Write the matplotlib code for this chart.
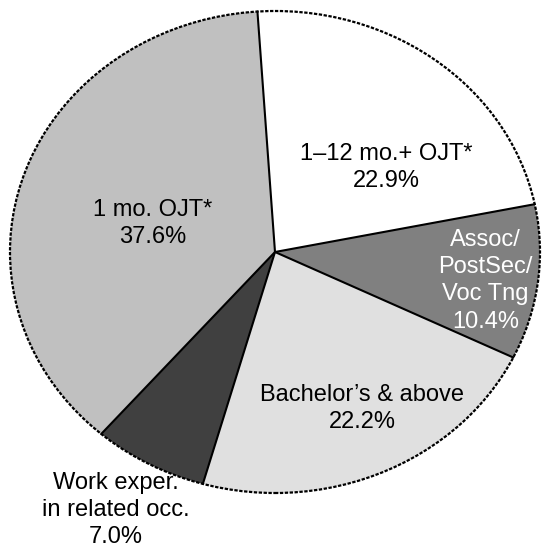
import matplotlib.pyplot as plt
import numpy as np
from matplotlib.patches import Circle

plt.rcParams['font.family'] = ['Liberation Sans', 'DejaVu Sans']

labels = ['1\u201312 mo.+ OJT*', 'Assoc/\nPostSec/\nVoc Tng', 'Bachelor\u2019s & above',
          'Work exper.\nin related occ.', '1 mo. OJT*']
shares = [22.9, 10.4, 22.2, 7.0, 37.6]
colors = ['#ffffff', '#808080', '#e0e0e0', '#404040', '#c0c0c0']
text_colors = ['black', 'white', 'black', 'black', 'black']
# label centres in axes data units
label_pos = [(0.42, 0.35), (0.795, -0.12), (0.33, -0.65), (-0.60, -1.07), (-0.46, 0.12)]

start = 93.8

fig = plt.figure(figsize=(5.44, 5.52), dpi=100)
ax = fig.add_axes([10/544, 59/552, 530/544, 482/552])
ax.pie(shares, colors=colors, startangle=start, counterclock=False,
       wedgeprops=dict(linewidth=0), normalize=True)
ax.set_aspect('auto')
ax.set_xlim(-1, 1)
ax.set_ylim(-1, 1)
ax.axis('off')

# radial edges (solid)
fr = np.cumsum([0] + shares) / sum(shares)
for f in fr[:-1]:
    a = np.deg2rad(start - 360 * f)
    ax.plot([0, np.cos(a)], [0, np.sin(a)], color='black', lw=1.5,
            solid_capstyle='round', clip_on=False)

# outer rim (dashed)
ax.add_patch(Circle((0, 0), 1, fill=False, edgecolor='black', lw=1.6,
                    linestyle=(0, (1.5, 0.7)), clip_on=False))

for lab, s, (x, y), c in zip(labels, shares, label_pos, text_colors):
    ax.text(x, y, '%s\n%.1f%%' % (lab, s), ha='center', va='center',
            fontsize=17, color=c, linespacing=1.3, clip_on=False)

fig.savefig('out.png', dpi=100)
